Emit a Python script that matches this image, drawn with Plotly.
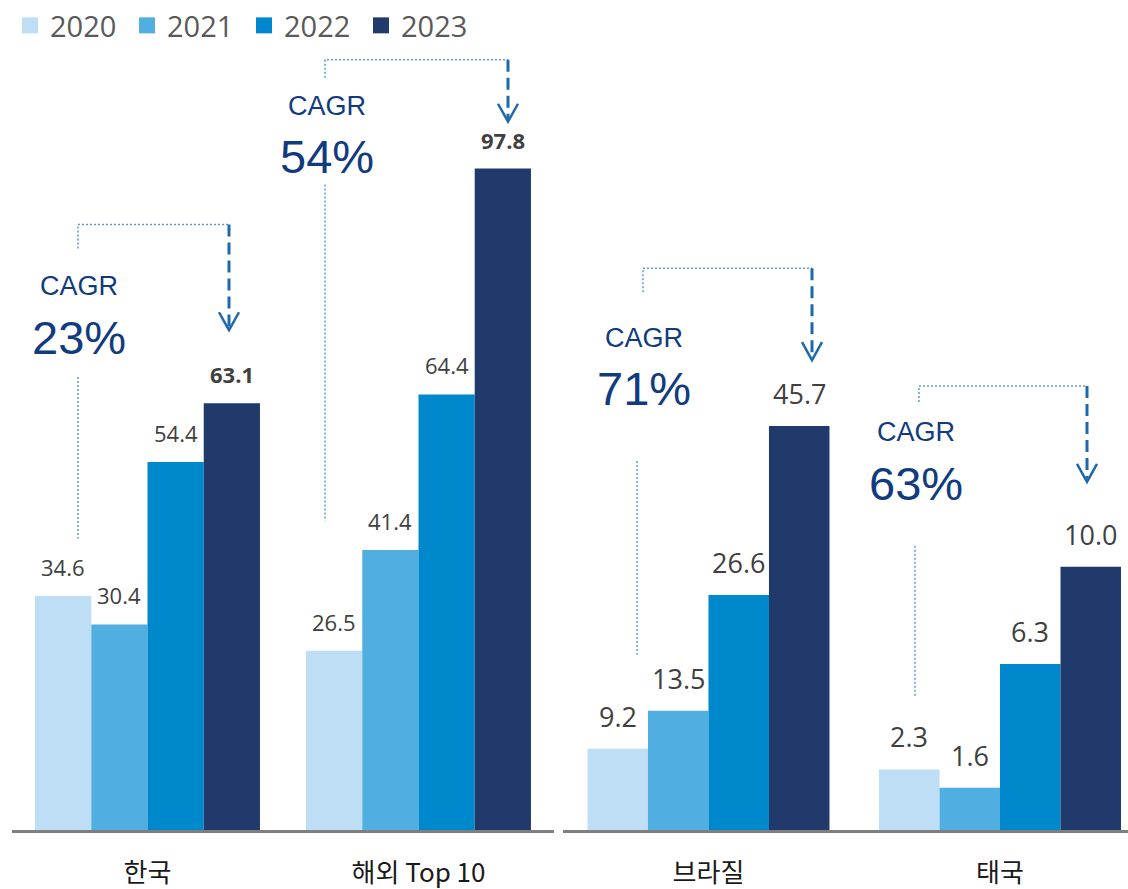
import plotly.graph_objects as go

# --- data -------------------------------------------------------------------
YEARS = ["2020", "2021", "2022", "2023"]
COLORS = ["#BDDEF5", "#50AEE1", "#0088CC", "#1F3A6B"]

LEFT_GROUPS = ["한국", "해외 Top 10"]
KOREA = [34.6, 30.4, 54.4, 63.1]
OVERSEAS = [26.5, 41.4, 64.4, 97.8]

RIGHT_GROUPS = ["브라질", "태국"]
BRAZIL = [9.2, 13.5, 26.6, 45.7]
THAILAND = [2.3, 1.6, 6.3, 10.0]

CAGR = ["23%", "54%", "71%", "63%"]

# --- geometry (pixels of the 1128 x 889 page) ---------------------------------
W, H = 1128, 889
PLOT_H = 832  # plot area runs from the top of the page down to the baseline
BAR_W = 0.2075  # one bar, in category units

LABEL_COLOR = "#404040"
NAVY = "#103B7F"
DOT_COLOR = "#5B9BD5"
ARROW_COLOR = "#1F68AC"


def px(x):
    return x / W


def py(y):
    return 1 - y / PLOT_H


fig = go.Figure()

# bars: left panel shares one scale, Brazil and Thailand each get their own
# (Thailand sits on an overlaid y axis of the right-hand subplot)
panels = [
    ("x", "y", [0, 1], [KOREA, OVERSEAS], 22),
    ("x2", "y2", [0], [BRAZIL], 27),
    ("x2", "y3", [1], [THAILAND], 27),
]
annotations = []
for xa, ya, pos, series, fsize in panels:
    for i, year in enumerate(YEARS):
        vals = [s[i] for s in series]
        fig.add_trace(go.Bar(
            x=pos, y=vals, width=BAR_W, offset=(i - 2) * BAR_W,
            marker=dict(color=COLORS[i], line=dict(width=0)),
            name=year, showlegend=False, xaxis=xa, yaxis=ya,
            hovertemplate=year + ": %{y:.1f}<extra></extra>",
        ))
        for p, v in zip(pos, vals):
            bold = xa == "x" and i == 3
            txt = f"<b>{v:.1f}</b>" if bold else f"{v:.1f}"
            annotations.append(dict(
                x=p + (i - 1.5) * BAR_W, y=v, xref=xa, yref=ya,
                text=txt, showarrow=False, xanchor="center", yanchor="bottom", yshift=12,
                font=dict(family="Open Sans", size=fsize, color=LABEL_COLOR),
            ))

# legend proxies (bigger squares than the bar legend icon)
for i, year in enumerate(YEARS):
    fig.add_trace(go.Scatter(
        x=[None], y=[None], mode="markers", name=year,
        marker=dict(symbol="square", size=16, color=COLORS[i]),
        xaxis="x", yaxis="y", hoverinfo="skip",
    ))

# CAGR brackets: (left x, top y, arrow x, short stub end, arrow tip, dotted from, dotted to,
#                 text x, CAGR y, pct y, dotted x)
BRACKETS = [
    (78, 225, 229, 249, 331, 378, 540, 79, 287, 338, 78),
    (325, 60, 508, 78, 122, 185, 522, 327, 106, 157, 325),
    (643, 269, 812, 293, 361, 462, 656, 644, 339, 389, 637),
    (919, 387, 1087, 403, 483, 547, 698, 916, 433, 485, 915),
]
shapes = []
dot = dict(color=DOT_COLOR, width=1.5, dash="2px,2px")
for k, (lx, ty, ax_, stub, tip, d0, d1, tx, cy, pyy, dx) in enumerate(BRACKETS):
    # top bracket
    shapes.append(dict(type="path", xref="paper", yref="paper", line=dot,
                       path=f"M{px(lx)},{py(stub)} L{px(lx)},{py(ty)} L{px(ax_)},{py(ty)}"))
    # dashed arrow shaft
    shapes.append(dict(type="line", xref="paper", yref="paper",
                       x0=px(ax_), x1=px(ax_), y0=py(ty), y1=py(tip - 3),
                       line=dict(color=ARROW_COLOR, width=3, dash="12px,6px")))
    # arrow head
    shapes.append(dict(type="path", xref="paper", yref="paper",
                       line=dict(color=ARROW_COLOR, width=2.5),
                       path=(f"M{px(ax_ - 10)},{py(tip - 18)} L{px(ax_)},{py(tip)} "
                             f"L{px(ax_ + 10)},{py(tip - 18)}")))
    # dotted drop line under the CAGR text
    shapes.append(dict(type="line", xref="paper", yref="paper",
                       x0=px(dx), x1=px(dx), y0=py(d0), y1=py(d1), line=dot))
    annotations.append(dict(x=px(tx), y=py(cy), xref="paper", yref="paper", text="CAGR",
                            showarrow=False, xanchor="center", yanchor="middle",
                            font=dict(family="Liberation Sans", size=27, color=NAVY)))
    annotations.append(dict(x=px(tx), y=py(pyy), xref="paper", yref="paper", text=CAGR[k],
                            showarrow=False, xanchor="center", yanchor="middle",
                            font=dict(family="Liberation Sans", size=47, color=NAVY)))

tickfont = dict(family="Noto Sans CJK KR", size=26, color="#1A1A1A")
xbase = dict(showgrid=False, zeroline=False, ticks="", showline=True,
             linecolor="#7F7F7F", linewidth=2.5, tickfont=tickfont,
             ticklabelstandoff=18, fixedrange=True)
ybase = dict(domain=[0, 1], visible=False, showgrid=False, zeroline=False, fixedrange=True)

fig.update_layout(
    width=W, height=H,
    margin=dict(l=0, r=0, t=0, b=H - PLOT_H),
    plot_bgcolor="white", paper_bgcolor="white",
    barmode="overlay",
    xaxis=dict(xbase, domain=[px(12), px(554)], range=[-0.5, 1.5],
               tickvals=[0, 1], ticktext=LEFT_GROUPS, anchor="y"),
    yaxis=dict(ybase, range=[0, PLOT_H / 6.78], anchor="x"),
    xaxis2=dict(xbase, domain=[px(563), 1], range=[-0.499, 1.439],
                tickvals=[0, 1], ticktext=RIGHT_GROUPS, anchor="y2"),
    yaxis2=dict(ybase, range=[0, PLOT_H / 8.86], anchor="x2"),
    yaxis3=dict(ybase, range=[0, PLOT_H / 26.4], anchor="x2", overlaying="y2"),
    legend=dict(orientation="h", x=px(10), y=1, xanchor="left", yanchor="top",
                font=dict(family="Open Sans", size=29, color="#595959"),
                itemsizing="trace", bgcolor="rgba(0,0,0,0)", itemclick=False,
                entrywidth=72),
    shapes=shapes,
    annotations=annotations,
    showlegend=True,
)

# the page's default 8px body margin would push the figure off its frame
fig.write_html("out.html", config={"displayModeBar": False},
               post_script="document.body.style.margin = '0';")
